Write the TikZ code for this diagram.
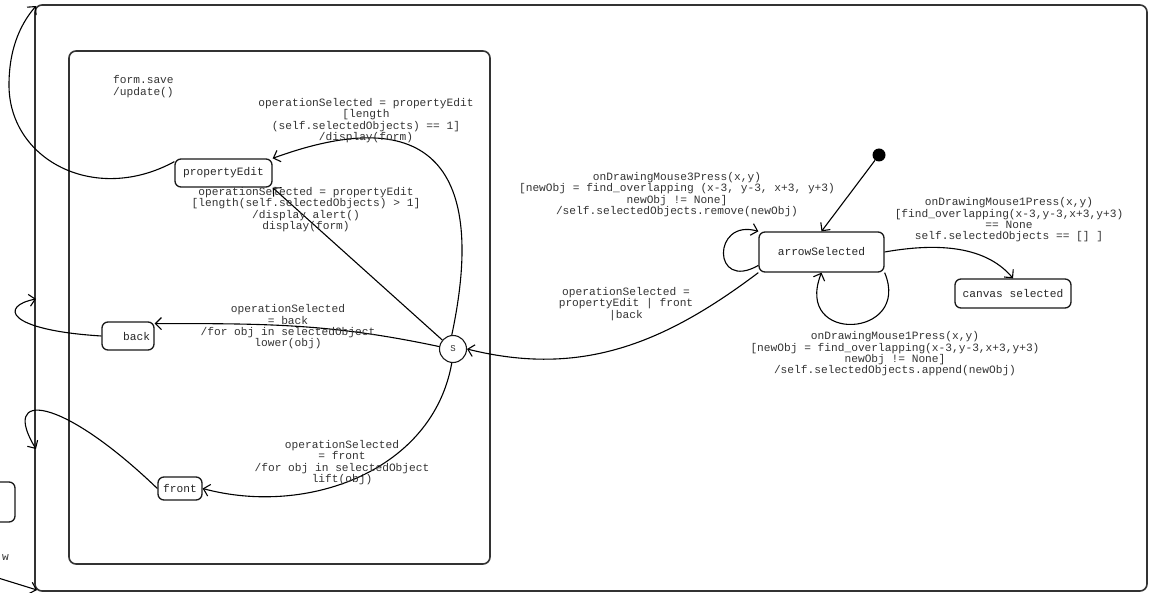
\documentclass[tikz,border=0pt]{standalone}
\usepackage{fontspec}
\setmonofont{Liberation Mono}
\usetikzlibrary{arrows.meta}
\begin{document}
\begin{tikzpicture}[x=1pt,y=-1pt,
  every node/.style={font=\ttfamily\fontsize{11.2}{11.3}\selectfont},
  st/.style={draw=black!90, line width=1.3pt, rounded corners=6pt, inner sep=0pt, minimum height=28pt, text=black!85},
  frame/.style={draw=black!80, line width=1.6pt, rounded corners=7pt, inner sep=0pt},
  lbl/.style={align=center, text=black!80, inner sep=0pt},
  tr/.style={line width=1.1pt, -{Straight Barb[length=6pt,width=12pt]}}]
\useasboundingbox (0,0) rectangle (1149,593);
\clip (0,0) rectangle (1149,593);
% frames
\node[frame, minimum width=1112pt, minimum height=586pt] (outer) at (591,298) {};
\node[frame, minimum width=421pt, minimum height=513pt] (inner) at (279.5,307.5) {};
% states
\node[st, minimum width=97pt] (pe) at (223.5,173) {propertyEdit};
\node[st, minimum width=52pt, text width=44pt, align=right] (back) at (128,336) {back};
\node[st, minimum width=44pt, minimum height=23pt] (front) at (180,488.5) {front};
\node[draw=black!90, circle, line width=1.1pt, minimum size=27pt, inner sep=0pt, text=black!80, font=\ttfamily\fontsize{9}{9}\selectfont] (S) at (453,349) {S};
\node[st, minimum width=125pt, minimum height=40pt] (as) at (821.5,252) {arrowSelected};
\node[st, minimum width=116pt, minimum height=29pt] (cs) at (1013,293.5) {canvas selected};
\node[circle, fill=black, minimum size=13pt, inner sep=0pt] (init) at (879,155) {};
\node[st, minimum width=50pt, minimum height=40pt] (lb) at (-10,502) {};
\node[lbl, anchor=east] (wl) at (9,558) {w};
% free ends on the outer frame
\coordinate (oTL) at (36,6);
\coordinate (oB) at (36,299);
\coordinate (oF) at (36,449);
\coordinate (cL) at (-5,577);
\coordinate (oBL) at (37,590);
% transitions
\draw[tr] (pe.167) .. controls (95,205) and (9,160) .. (9,85) .. controls (9,45) and (23,21) .. (oTL);
\draw[tr] (S.95) to[out=78,in=20,looseness=1.72] (pe.north east);
\draw[tr] (S.140) -- (pe.south east);
\draw[tr] (S.170) to[out=168,in=0] (back.25);
\draw[tr] (S.265) to[out=260,in=345] (front.east);
\draw[tr] (as.south west) to[out=217,in=346] (S.east);
\draw[tr] (init) -- (as.north);
\draw[tr] (as.192) .. controls (712,292) and (712,218) .. (as.north west);
\draw[tr] (as.south east) .. controls (912,338) and (793,345) .. (as.south);
\draw[tr] (as.east) to[out=10,in=130,looseness=0.9] (cs.north);
\draw[tr] (back.west) .. controls (5,330) and (0,306) .. (oB);
\draw[tr] (front.west) .. controls (60,395) and (0,390) .. (oF);
\draw[tr] (cL) -- (oBL);
% labels
\node[lbl, anchor=west, align=left] (l1) at (113,86.5) {form.save\\/update()};
\node[lbl] (l2) at (366,120.5) {operationSelected = propertyEdit\\{}[length\\(self.selectedObjects) == 1]\\/display(form)};
\node[lbl] (l3) at (306,209.5) {operationSelected = propertyEdit\\{}[length(self.selectedObjects) > 1]\\/display alert()\\display(form)};
\node[lbl] (l4) at (288,327) {operationSelected\\= back\\/for obj in selectedObject\\lower(obj)};
\node[lbl] (l5) at (342,462.5) {operationSelected\\= front\\/for obj in selectedObject\\lift(obj)};
\node[lbl] (l6) at (626,304) {operationSelected =\\propertyEdit | front\\|back};
\node[lbl] (l7) at (677,194.5) {onDrawingMouse3Press(x,y)\\{}[newObj = find\_overlapping (x-3, y-3, x+3, y+3)\\newObj != None]\\/self.selectedObjects.remove(newObj)};
\node[lbl] (l8) at (1009,220) {onDrawingMouse1Press(x,y)\\{}[find\_overlapping(x-3,y-3,x+3,y+3)\\== None\\self.selectedObjects == [] ]};
\node[lbl] (l9) at (895,354) {onDrawingMouse1Press(x,y)\\{}[newObj = find\_overlapping(x-3,y-3,x+3,y+3)\\newObj != None]\\/self.selectedObjects.append(newObj)};
\end{tikzpicture}
\end{document}
